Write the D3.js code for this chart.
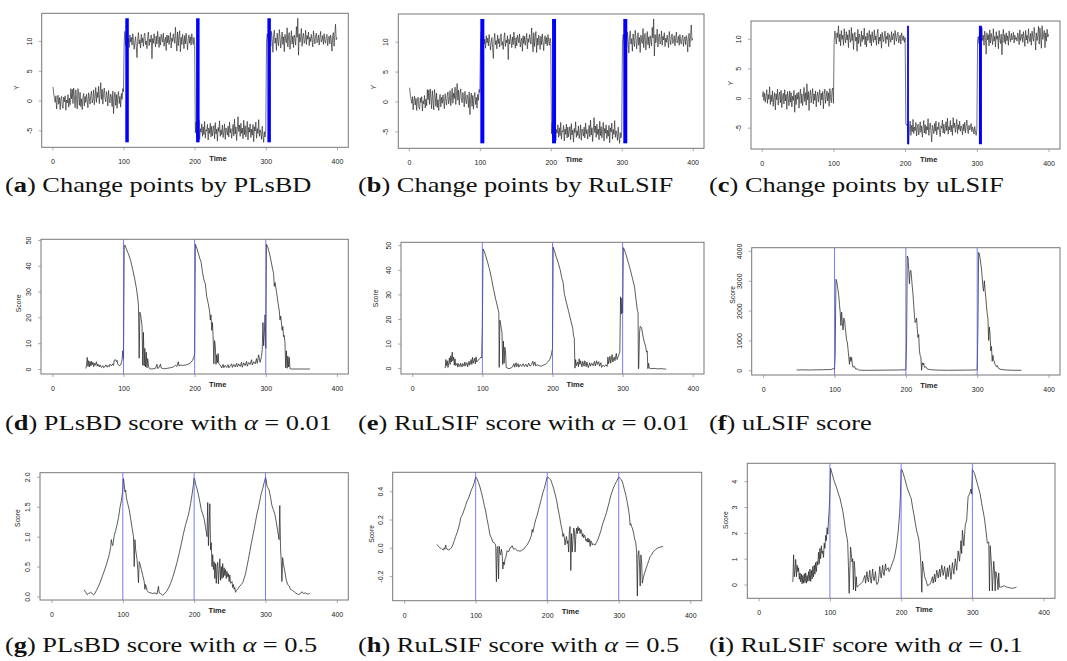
<!DOCTYPE html>
<html>
<head>
<meta charset="utf-8">
<script src="https://cdn.jsdelivr.net/npm/d3@7"></script>
<style>
body { margin: 0; background: #fff; }
svg { display: block; }
</style>
</head>
<body>
<svg id="fig" width="1067" height="661"></svg>
<script>
"use strict";

// observed series used by PLsBD and RuLSIF (t = 1..400)
var seriesY1 = [
 2.3, 1.1, 0.4, -0.3, 0.8, -1.4, 0.2, 0.9, -0.6, 0.5,
 -1.5, 0.3, 0.7, -0.9, -1.3, 0.6, -0.2, 0.8, -1.6, 0.1,
 -0.4, 1.0, -1.1, 0.4, -0.7, 2.0, 0.3, 1.9, -0.5, 2.1,
 0.6, -1.2, 1.8, 0.2, -1.4, 2.0, 0.9, -0.8, 1.4, -1.0,
 0.3, -1.5, 0.5, 1.2, -0.9, 0.7, -0.3, 1.1, 0.0, -1.2,
 1.3, 0.4, -0.6, 0.9, 1.6, -0.4, 0.2, 1.8, -0.7, 0.6,
 2.2, -0.3, 1.4, 0.5, 2.4, -0.5, 1.0, 3.0, 0.2, 1.9,
 -0.6, 1.2, 2.1, 0.4, -0.2, 1.5, 0.8, -0.9, 1.7, 0.3,
 -0.4, 1.1, 0.6, -1.0, 1.6, -2.2, 0.5, 1.4, -0.8, 1.0,
 -1.3, 0.9, 1.5, -0.5, 0.7, -1.1, 1.2, 0.2, 2.0, 1.5,
 10.0, 11.6, 9.2, 10.8, 11.3, 9.6, 10.4, 8.9, 11.0, 9.8,
 10.6, 9.3, 11.2, 10.1, 8.6, 9.9, 10.7, 9.0, 7.2, 10.3,
 11.4, 9.5, 10.2, 8.8, 11.1, 9.7, 10.5, 9.1, 10.9, 11.3,
 9.4, 10.0, 8.7, 10.6, 11.5, 9.2, 10.3, 9.8, 11.0, 7.0,
 10.4, 9.6, 11.2, 10.1, 9.0, 10.8, 9.5, 11.6, 10.2, 8.9,
 10.7, 9.3, 11.1, 10.5, 9.8, 11.3, 9.1, 10.0, 10.6, 8.4,
 11.0, 9.7, 10.9, 9.4, 10.2, 11.4, 8.8, 10.5, 9.9, 11.2,
 10.3, 9.6, 12.3, 10.0, 8.3, 11.5, 9.2, 10.8, 11.7, 8.2,
 10.6, 9.4, 11.1, 10.2, 8.7, 10.9, 9.5, 11.3, 10.0, 8.5,
 10.4, 11.0, 9.6, 10.7, 9.3, 11.2, 10.1, 9.4, 10.6, 9.7,
 -5.4, -3.6, -6.2, -4.1, -5.8, -3.2, -6.5, -4.7, -5.3, -3.9,
 -6.0, -4.4, -5.7, -3.5, -6.3, -4.9, -5.1, -4.0, -6.6, -4.6,
 -5.5, -3.8, -6.1, -4.3, -5.9, -5.0, -4.2, -6.4, -3.7, -5.6,
 -4.8, -6.8, -4.5, -5.2, -3.4, -6.0, -4.9, -5.7, -4.1, -6.2,
 -5.3, -3.9, -6.5, -4.6, -5.0, -5.8, -4.3, -6.1, -3.6, -5.4,
 -4.7, -6.3, -5.1, -4.0, -5.9, -3.1, -5.6, -4.4, -6.7, -4.8,
 -2.7, -5.2, -4.1, -6.0, -3.8, -5.5, -4.6, -6.4, -3.3, -5.7,
 -4.2, -6.1, -5.0, -3.5, -6.6, -4.5, -5.3, -3.9, -6.2, -4.8,
 -5.8, -4.0, -6.9, -4.4, -5.1, -3.6, -6.3, -4.7, -5.5, -3.2,
 -6.0, -4.9, -5.4, -6.5, -4.3, -5.9, -7.0, -5.2, -6.1, -5.0,
 9.8, 11.2, 10.4, 9.5, 12.0, 10.8, 9.1, 11.6, 10.2, 8.1,
 10.9, 11.8, 9.6, 10.5, 8.4, 11.3, 10.0, 9.2, 11.9, 10.6,
 8.8, 10.3, 11.5, 9.4, 10.7, 8.2, 11.1, 10.1, 9.7, 12.2,
 9.0, 10.9, 11.4, 8.6, 10.2, 11.7, 9.5, 10.8, 8.9, 11.0,
 10.4, 9.3, 12.4, 10.6, 13.8, 7.6, 11.2, 9.8, 10.5, 12.1,
 9.1, 10.7, 11.3, 9.6, 10.0, 11.8, 9.4, 10.9, 10.3, 11.5,
 9.2, 10.6, 9.9, 11.1, 10.2, 9.0, 11.7, 10.4, 9.5, 10.8,
 11.3, 9.7, 10.1, 11.0, 9.3, 10.5, 11.6, 9.8, 10.2, 10.9,
 9.4, 11.2, 10.0, 9.6, 10.7, 11.1, 9.2, 10.4, 10.8, 9.5,
 11.0, 10.3, 8.3, 10.9, 11.4, 9.1, 11.0, 12.8, 10.2, 10.6
];

// observed series used by uLSIF (t = 1..400)
var seriesY2 = [
 0.2, 1.1, -0.4, 0.8, -0.7, 0.3, 1.4, -0.9, 0.6, -0.2,
 1.9, -1.1, 0.5, -0.6, 1.2, -1.4, 0.1, 0.9, -2.0, 0.7,
 -0.3, 1.5, -1.2, 0.4, 1.0, -0.8, 1.3, -1.6, 0.2, 0.8,
 -1.0, 1.4, -0.5, 0.6, -1.9, 1.1, 0.0, -1.3, 1.2, -0.7,
 0.9, -1.5, 0.3, -0.4, 1.3, -2.4, 0.5, -1.1, 0.8, -0.2,
 1.0, -1.7, 0.4, 1.5, -0.9, 0.7, -1.3, 0.2, 1.8, -0.6,
 0.9, -1.2, 2.4, -0.3, 1.1, -2.1, 0.6, 1.3, -0.8, 0.4,
 1.6, -1.0, 0.7, -0.4, 1.2, -1.5, 0.3, 1.0, -0.7, 0.5,
 1.4, -1.2, 0.8, -0.3, 1.1, -1.8, 0.6, 1.5, -0.9, 0.2,
 1.2, -0.5, 0.9, -1.4, 1.6, 0.1, -0.8, 1.3, 1.7, -0.9,
 9.6, 11.3, 10.4, 9.1, 11.0, 10.2, 12.2, 9.5, 10.8, 8.8,
 11.4, 9.9, 10.6, 8.9, 11.7, 10.1, 9.3, 11.2, 9.8, 10.7,
 8.5, 11.5, 10.0, 9.4, 11.9, 9.7, 10.9, 8.2, 10.5, 11.1,
 9.6, 10.3, 7.9, 11.6, 9.2, 10.8, 10.1, 8.7, 11.3, 9.5,
 10.6, 9.9, 11.8, 9.0, 10.4, 8.6, 11.0, 9.7, 10.2, 11.4,
 9.3, 10.7, 8.8, 11.2, 10.0, 9.4, 11.5, 9.8, 10.5, 8.9,
 10.9, 11.6, 9.1, 10.3, 9.6, 10.8, 8.4, 11.1, 10.0, 9.5,
 10.6, 11.3, 9.2, 10.4, 9.9, 11.0, 8.7, 10.7, 10.1, 9.4,
 11.2, 9.8, 10.5, 10.9, 9.0, 11.4, 10.2, 9.6, 10.8, 11.1,
 9.3, 10.0, 10.6, 9.1, 11.0, 10.3, 9.7, 10.5, 9.4, 10.2,
 -4.3, -4.6, -4.4, -6.1, -7.8, -5.2, -3.9, -6.3, -4.6, -5.7,
 -3.6, -6.0, -4.9, -5.5, -4.1, -6.4, -5.0, -4.4, -6.2, -5.3,
 -4.0, -5.8, -4.7, -6.6, -5.1, -3.8, -5.9, -4.5, -6.1, -4.8,
 -5.4, -3.5, -6.3, -5.0, -4.2, -5.7, -7.4, -4.6, -5.2, -6.0,
 -4.3, -5.6, -3.9, -6.2, -4.9, -5.3, -4.1, -5.8, -6.5, -4.7,
 -5.1, -3.7, -5.9, -4.4, -6.0, -5.2, -4.0, -5.5, -3.4, -6.1,
 -4.8, -5.4, -3.8, -5.7, -4.6, -6.3, -3.3, -5.0, -4.2, -5.8,
 -4.9, -3.6, -6.0, -4.5, -5.3, -3.9, -5.6, -4.7, -5.1, -6.2,
 -4.4, -5.5, -4.1, -5.9, -4.8, -3.7, -5.2, -6.0, -4.6, -5.4,
 -5.0, -4.3, -5.7, -4.9, -5.3, -6.1, -4.8, -5.6, -6.3, -5.4,
 9.6, 10.4, 9.2, 11.1, 10.0, 9.5, 11.8, 9.7, 10.6, 8.9,
 11.3, 10.2, 7.4, 11.0, 9.8, 10.7, 8.8, 11.5, 9.3, 10.9,
 10.1, 9.0, 11.7, 9.6, 10.4, 8.6, 11.2, 9.9, 10.5, 8.3,
 11.4, 10.0, 9.2, 10.8, 7.3, 10.3, 11.6, 9.4, 10.7, 9.1,
 11.0, 9.7, 10.5, 8.9, 11.3, 10.2, 9.5, 10.9, 9.8, 10.1,
 11.1, 9.3, 10.6, 9.9, 10.2, 9.6, 11.0, 10.4, 9.0, 11.5,
 9.7, 10.3, 10.8, 9.4, 11.2, 10.0, 8.7, 11.4, 9.8, 10.6,
 9.2, 11.7, 10.1, 9.5, 10.9, 8.9, 11.3, 10.2, 9.6, 11.9,
 10.4, 8.1, 11.0, 9.7, 10.5, 12.1, 9.1, 11.8, 10.3, 8.4,
 12.2, 9.9, 10.7, 11.4, 8.5, 11.0, 9.6, 11.6, 10.3, 10.8
];

// detected change points
var cpPLsBD = [105, 204.5, 304.7];
var cpRuLSIF = [103.5, 204.6, 305];
var cpULSIF = [204, 305];

// true change points (vertical reference lines in score plots)
var trueCps = [100, 200, 300];

// scores: [time, score]
var scorePLsBD01 = [
 [47,0.2],[48,1.5],[49,4.5],[50,1.0],[51,3.2],[52,0.8],[53,2.9],[54,1.2],[55,3.0],[56,1.6],[57,2.6],[58,0.9],[59,2.2],[60,1.4],[62,2.8],[63,1.1],[64,1.9],[66,0.8],[67,1.6],[69,0.6],[71,1.3],[72,0.5],[74,1.0],[75,1.6],[77,0.7],[78,1.4],[80,0.9],[81,1.9],[83,1.2],[85,2.0],[86,1.4],[87,3.4],[89,3.6],[90,2.8],[91,3.3],[92,1.8],[94,1.3],[96,1.6],[97,2.5],[98,3.5],[99,7.1],[100,4.0],
 [101,47.8],[102,48.0],[104,46.5],[107,44.5],[110,42.0],[113,38.5],[116,34.5],[118,31.5],[120,27.5],[121,24.5],[122,4.2],[123,22.0],[124,21.0],[125,19.0],[126,17.0],[127,1.5],[128,14.2],[129,1.2],[130,8.0],[131,0.8],[132,6.5],[133,0.5],[134,4.0],[135,1.5],[136,0.3],[138,0.0],[142,0.1],[145,0.3],[147,1.8],[148,0.2],[150,0.6],[152,1.9],[153,0.4],[155,0.2],[158,0.1],[162,0.3],[166,0.5],[170,0.8],[173,1.4],[175,1.0],[177,2.8],[178,1.2],[180,1.5],[184,1.4],[188,1.6],[192,2.0],[195,2.6],[197,3.4],[199,4.6],[200,6.0],
 [201,48.3],[203,46.8],[205,45.0],[207,43.0],[209,41.5],[211,37.5],[213,34.5],[215,33.0],[217,28.0],[219,25.5],[221,22.5],[222,19.0],[223,21.0],[224,15.0],[225,18.0],[226,12.0],[227,2.0],[228,11.0],[229,9.0],[230,1.8],[231,5.5],[232,2.5],[233,6.0],[234,2.0],[236,1.5],[238,0.4],[240,1.8],[241,0.5],[243,1.4],[245,0.6],[247,1.7],[248,0.4],[250,1.2],[252,2.0],[253,0.6],[255,1.8],[257,0.8],[259,2.2],[260,0.9],[262,2.0],[264,1.0],[266,2.6],[267,0.7],[269,2.4],[271,1.3],[273,3.0],[274,1.1],[276,2.5],[278,1.8],[280,3.6],[281,1.6],[283,2.8],[285,2.0],[287,4.0],[288,2.2],[290,5.5],[292,2.6],[294,4.8],[295,7.5],[296,18.0],[297,9.0],[298,14.0],[299,21.0],[300,8.0],
 [301,48.3],[303,47.0],[305,45.0],[307,42.5],[309,39.5],[311,37.0],[312,32.0],[313,33.5],[315,30.0],[317,26.0],[319,22.5],[320,19.0],[321,20.5],[323,15.0],[324,16.5],[325,12.5],[326,13.0],[327,10.0],[328,0.5],[329,7.0],[330,0.3],[331,5.0],[332,0.8],[333,4.5],[334,0.2],[336,0.0],[362,0.0]
];

var scoreRuLSIF01 = [
 [47,0.0],[48,3.5],[49,1.0],[50,3.0],[51,0.3],[52,2.0],[53,4.2],[54,1.5],[55,5.0],[56,2.5],[57,6.5],[58,3.0],[59,4.5],[60,1.2],[61,3.8],[62,1.0],[64,2.0],[65,0.4],[66,1.8],[68,0.6],[69,2.0],[71,0.5],[72,1.9],[74,0.8],[75,2.5],[76,1.0],[78,2.2],[79,0.5],[81,2.8],[82,1.2],[84,3.5],[85,1.5],[86,4.4],[87,2.0],[89,4.0],[90,1.8],[91,4.6],[92,2.5],[94,3.2],[96,3.8],[98,4.5],[99,4.2],[100,17.0],
 [101,48.5],[102,48.0],[104,46.5],[107,43.5],[110,40.5],[113,36.5],[116,32.0],[119,28.0],[122,24.5],[123.5,22.5],[124,0.3],[125,19.5],[126,18.0],[127,16.0],[128,14.5],[129,1.5],[130,11.0],[131,2.0],[132,8.5],[133,7.0],[134,0.3],[136,0.0],[138,-0.2],[141,0.1],[143,0.5],[145,1.8],[146,0.4],[148,2.2],[149,0.6],[151,1.8],[152,0.4],[154,1.5],[156,0.7],[158,1.8],[160,0.6],[162,1.6],[164,0.5],[166,2.0],[168,0.8],[170,1.5],[172,2.8],[173,1.0],[175,2.5],[176,0.9],[178,1.4],[181,1.0],[184,0.8],[187,1.2],[190,1.6],[193,2.4],[196,3.5],[198,5.0],[200,8.0],
 [201,49.2],[203,47.5],[205,45.5],[208,43.0],[211,40.0],[213,37.0],[215,35.0],[217,30.0],[220,26.5],[223,23.0],[226,19.5],[229,16.0],[230,13.0],[231,12.5],[232,0.0],[233,3.5],[234,1.0],[236,2.5],[237,0.6],[238,3.8],[239,1.5],[240,3.0],[242,0.5],[243,2.8],[245,0.8],[246,3.0],[248,0.6],[249,2.5],[251,0.2],[253,2.2],[254,0.8],[256,2.0],[258,1.0],[260,2.8],[261,0.9],[263,3.0],[264,1.5],[266,2.6],[267,0.8],[269,2.2],[270,0.3],[272,1.2],[274,0.6],[276,1.4],[278,0.7],[279,4.5],[280,1.8],[282,4.8],[283,2.0],[285,5.5],[286,2.5],[288,4.5],[289,3.0],[291,6.0],[292,3.5],[294,5.0],[296,6.5],[297,29.0],[298,22.0],[299,28.5],[300,22.5],
 [301,49.0],[302,48.5],[305,46.0],[308,43.0],[311,40.0],[314,36.5],[317,33.0],[319,28.0],[321,23.5],[322,22.5],[322.5,-0.3],[323,0.5],[324,14.0],[325,17.0],[327,16.5],[329,13.0],[331,10.5],[333,8.5],[334,6.5],[335,7.0],[336,-0.2],[337,2.0],[338,0.0],[340,-0.2],[345,-0.1],[350,-0.3],[355,-0.2],[360,-0.4],[362,-0.3]
];

var scoreULSIF = [
 [47,10],[55,15],[65,10],[75,15],[85,20],[95,25],[99,60],[100,30],
 [101,500],[102,3050],[103,3000],[104,2850],[106,2500],[107,2200],[108,1950],[109,1500],[110,1950],[111,1600],[112,1350],[113,1750],[114,1700],[115,1450],[116,1250],[117,1000],[118,950],[119,700],[120,450],[121,200],[122,450],[123,300],[124,430],[125,200],[126,100],[128,130],[130,30],[132,50],[134,10],[138,0],[150,0],[170,5],[190,10],[199,15],[200,20],
 [201,900],[202,3830],[203,3780],[204,3400],[205,2900],[206,3300],[207,3350],[208,3100],[209,2800],[210,2550],[211,2200],[212,1850],[213,1600],[214,1650],[215,1750],[216,1400],[217,1100],[218,1200],[219,650],[220,500],[221,450],[222,0],[223,250],[224,180],[225,240],[226,100],[228,120],[230,40],[235,20],[245,5],[260,0],[280,5],[295,10],[299,15],[300,20],
 [301,1500],[302,3950],[303,3900],[304,3750],[306,3400],[307,3100],[308,2800],[309,2650],[310,3000],[311,2700],[312,2450],[313,2150],[314,1900],[315,1750],[316,1000],[317,1450],[318,1200],[319,650],[320,800],[321,300],[322,500],[323,350],[325,200],[327,120],[328,160],[330,60],[333,30],[340,10],[350,0],[362,0]
];

var scorePLsBD05 = [
 [46,0.11],[48,0.07],[50,0.03],[52,0.05],[55,0.07],[57,0.05],[59,0.03],[61,0.05],[63,0.1],[66,0.17],[69,0.26],[72,0.36],[75,0.46],[78,0.57],[81,0.7],[83,0.82],[84,0.95],[85,0.88],[86,0.85],[88,1.02],[90,1.1],[92,1.2],[94,1.32],[96,1.48],[98,1.6],[100,1.78],
 [101,1.97],[102,1.87],[103,1.75],[104,1.78],[105,1.65],[107,1.55],[109,1.45],[111,1.3],[113,1.15],[115,1.0],[116,0.5],[117,0.95],[118,0.78],[120,0.62],[121,0.45],[122,0.23],[123,0.58],[124,0.55],[126,0.45],[128,0.35],[130,0.25],[131,0.12],[132,0.2],[134,0.1],[136,0.07],[139,0.06],[142,0.05],[145,0.06],[148,0.04],[150,0.17],[151,0.06],[153,0.05],[156,0.02],[158,0.04],[161,0.08],[164,0.14],[167,0.22],[170,0.32],[173,0.44],[176,0.57],[179,0.72],[182,0.88],[185,1.05],[188,1.2],[191,1.32],[193,1.42],[195,1.55],[197,1.7],[199,1.87],[200,1.98],
 [201,1.95],[202,1.88],[204,1.8],[206,1.7],[208,1.58],[210,1.45],[212,1.38],[214,1.3],[216,1.15],[218,1.0],[219,1.57],[220,0.85],[221,1.2],[222,1.55],[223,0.78],[224,0.9],[225,0.5],[226,0.7],[227,0.45],[228,0.58],[229,0.3],[230,0.55],[231,0.22],[232,0.5],[233,0.57],[234,0.21],[235,0.45],[236,0.63],[237,0.27],[238,0.5],[239,0.3],[240,0.55],[241,0.32],[242,0.48],[243,0.35],[244,0.45],[245,0.3],[246,0.42],[247,0.33],[248,0.38],[249,0.25],[250,0.36],[251,0.22],[253,0.25],[254,0.15],[255,0.2],[256,0.12],[257,0.15],[258,0.07],[259,0.1],[261,0.12],[263,0.16],[266,0.2],[268,0.23],[270,0.3],[272,0.38],[274,0.5],[276,0.62],[278,0.75],[280,0.88],[282,1.0],[284,1.12],[286,1.25],[288,1.38],[290,1.48],[292,1.6],[294,1.72],[296,1.8],[298,1.9],[300,1.99],
 [301,1.95],[302,1.85],[303,1.82],[305,1.78],[307,1.66],[309,1.52],[311,1.45],[313,1.38],[315,1.25],[317,1.1],[319,0.95],[320,1.52],[321,0.82],[322,0.6],[323,0.25],[324,0.65],[325,0.55],[327,0.42],[329,0.28],[331,0.2],[333,0.18],[335,0.12],[338,0.1],[342,0.06],[346,0.03],[349,0.05],[351,0.08],[353,0.05],[356,0.06],[359,0.04],[362,0.05]
];

var scoreRuLSIF05 = [
 [46,0.024],[48,0.01],[50,0.0],[52,-0.005],[53,-0.01],[55,-0.015],[56,0.0],[57,-0.01],[58,0.02],[59,0.0],[60,-0.01],[62,-0.015],[64,-0.01],[66,0.0],[68,0.02],[70,0.05],[72,0.08],[74,0.106],[76,0.14],[78,0.18],[79,0.21],[80,0.22],[81,0.23],[82,0.24],[84,0.27],[86,0.3],[88,0.33],[90,0.35],[92,0.38],[94,0.41],[96,0.43],[98,0.46],[100,0.5],
 [101,0.495],[102,0.485],[104,0.46],[106,0.43],[108,0.39],[110,0.35],[112,0.3],[114,0.26],[116,0.2],[118,0.15],[120,0.09],[122,0.07],[124,0.04],[126,0.035],[127,0.03],[128,0.02],[129,-0.24],[130,0.0],[131,0.01],[132,-0.22],[133,0.01],[134,-0.04],[135,-0.05],[136,-0.01],[137,-0.04],[138,-0.15],[139,-0.1],[140,-0.12],[141,-0.08],[142,-0.07],[144,-0.02],[146,-0.03],[148,0.0],[150,0.005],[151,0.015],[153,-0.01],[155,-0.005],[158,-0.02],[160,-0.02],[162,-0.025],[165,-0.015],[167,-0.01],[170,0.01],[172,0.02],[174,0.04],[176,0.06],[178,0.09],[179,0.13],[180,0.11],[182,0.16],[184,0.2],[186,0.23],[188,0.27],[190,0.31],[192,0.35],[194,0.39],[196,0.42],[198,0.46],[200,0.5],
 [201,0.5],[203,0.49],[205,0.48],[207,0.45],[209,0.42],[211,0.38],[213,0.34],[215,0.28],[217,0.23],[219,0.17],[221,0.12],[222,0.08],[223,0.1],[224,0.07],[225,0.02],[226,0.06],[227,0.08],[228,0.03],[229,0.05],[230,-0.03],[231,0.12],[232,0.15],[233,-0.16],[234,0.1],[235,-0.03],[236,0.05],[237,0.14],[238,0.12],[239,-0.03],[240,0.08],[241,0.14],[242,0.1],[243,0.15],[244,0.12],[245,0.14],[246,0.1],[247,0.13],[248,0.12],[249,0.08],[250,0.1],[251,0.07],[252,0.09],[253,0.08],[254,0.05],[255,0.06],[256,0.04],[257,0.07],[258,0.04],[259,0.06],[260,0.01],[261,0.05],[262,0.04],[263,0.02],[264,0.03],[265,0.025],[267,0.02],[269,0.04],[271,0.06],[273,0.09],[275,0.12],[277,0.16],[279,0.19],[281,0.22],[283,0.25],[285,0.29],[287,0.33],[289,0.37],[291,0.4],[293,0.43],[295,0.45],[297,0.47],[299,0.49],[300,0.5],
 [302,0.49],[304,0.48],[306,0.45],[308,0.41],[310,0.37],[312,0.32],[314,0.26],[315,0.22],[316,0.16],[317,0.17],[318,0.15],[319,0.14],[320,0.12],[321,0.1],[322,0.07],[323,0.05],[324,0.03],[325,-0.03],[326,-0.34],[327,-0.05],[328,-0.02],[329,-0.1],[330,-0.27],[331,-0.05],[332,-0.1],[333,-0.25],[334,-0.22],[335,-0.2],[336,-0.18],[338,-0.15],[340,-0.12],[342,-0.09],[344,-0.06],[346,-0.05],[348,-0.03],[350,-0.02],[352,-0.01],[355,0.0],[358,0.005],[362,0.01]
];

var scoreRuLSIF01b = [
 [47,0.09],[48,0.12],[49,1.15],[50,0.3],[51,0.55],[52,0.97],[53,0.3],[54,0.75],[55,0.5],[56,0.65],[57,0.2],[58,0.45],[59,0.1],[60,0.4],[61,0.03],[62,0.35],[63,0.05],[64,0.42],[65,0.08],[66,0.45],[67,0.05],[68,0.35],[69,0.12],[70,0.5],[71,0.15],[72,0.6],[73,0.12],[74,0.55],[75,0.22],[76,0.7],[77,0.3],[78,0.75],[79,0.4],[80,0.85],[81,0.5],[82,0.9],[83,0.75],[84,1.25],[85,0.8],[86,1.4],[87,1.0],[88,1.5],[89,1.2],[90,1.3],[91,1.05],[92,1.6],[93,1.4],[94,1.9],[95,1.7],[96,2.2],[97,1.95],[98,2.5],[99,2.9],[100,3.6],
 [101,4.5],[102,4.4],[104,4.2],[106,4.0],[108,3.85],[110,3.7],[112,3.5],[114,3.35],[116,3.1],[118,2.85],[120,2.5],[122,2.1],[124,1.8],[125,1.6],[126,0.7],[127,-0.34],[128,0.6],[129,1.45],[130,1.2],[131,0.87],[132,1.0],[133,-0.2],[134,0.9],[135,0.6],[136,-0.25],[137,0.3],[138,-0.1],[140,-0.05],[142,0.0],[144,0.05],[146,0.1],[147,0.2],[149,0.35],[150,0.05],[152,0.5],[153,0.2],[154,0.1],[156,0.55],[157,0.2],[158,0.05],[160,0.6],[161,0.25],[162,0.15],[164,0.5],[165,0.1],[166,0.0],[168,0.1],[170,0.7],[171,0.4],[172,0.25],[174,0.75],[175,0.45],[176,0.35],[178,0.8],[179,0.55],[180,0.6],[182,0.65],[183,0.5],[184,0.55],[186,0.7],[188,0.85],[190,1.0],[192,1.25],[194,1.6],[196,2.1],[198,2.8],[199,3.5],[200,4.45],
 [201,4.45],[203,4.3],[205,4.1],[207,3.9],[209,3.7],[211,3.55],[213,3.4],[214,3.35],[216,3.0],[218,2.7],[220,2.35],[222,2.05],[224,1.85],[225,1.7],[226,1.4],[227,1.1],[228,0.6],[229,-0.3],[230,0.9],[231,0.7],[232,0.5],[233,0.3],[235,0.15],[237,-0.05],[240,0.0],[242,0.1],[244,0.3],[245,0.05],[247,0.4],[248,0.1],[250,0.55],[252,0.25],[254,0.6],[255,0.3],[257,0.75],[259,0.35],[261,0.7],[263,0.2],[265,0.65],[266,0.3],[268,0.75],[270,0.2],[272,0.85],[274,0.4],[276,1.0],[278,0.55],[280,1.3],[282,0.9],[284,1.7],[285,1.2],[286,2.1],[288,1.5],[290,2.3],[292,2.5],[294,3.4],[296,3.5],[298,3.7],[299,3.5],[300,4.45],
 [301,4.4],[303,4.3],[305,4.1],[307,3.9],[309,3.7],[311,3.5],[313,3.15],[315,2.85],[317,2.55],[319,2.1],[321,1.6],[323,1.65],[324,-0.25],[325,1.5],[326,1.1],[327,0.7],[328,-0.25],[330,0.9],[331,0.55],[332,-0.25],[333,0.5],[335,0.2],[336,-0.2],[337,0.45],[338,-0.1],[340,-0.1],[342,-0.08],[345,-0.05],[348,-0.1],[352,-0.12],[356,-0.15],[360,-0.12],[362,-0.1]
];

var captionLetters = ["a", "b", "c", "d", "e", "f", "g", "h", "i"];
var captionTexts = [
 "Change points by PLsBD", "Change points by RuLSIF", "Change points by uLSIF",
 "PLsBD score with α = 0.01", "RuLSIF score with α = 0.01", "uLSIF score",
 "PLsBD score with α = 0.5", "RuLSIF score with α = 0.5", "RuLSIF score with α = 0.1"
];

// layout: plot box [x0, y0, x1, y1], y-label position
var panels = [
 {box: [41.7, 13.3, 348.3, 147.3], series: seriesY1, cps: cpPLsBD, cpw: [3.5, 3.5, 3.5], ylab: "Y", ylabDx: -25, ylabF: 0.555},
 {box: [398.3, 14, 704, 148.3], series: seriesY1, cps: cpRuLSIF, cpw: [4, 4, 4], ylab: "Y", ylabDx: -25, ylabF: 0.546},
 {box: [751, 21, 1060, 149], series: seriesY2, cps: cpULSIF, cpw: [1.8, 3], ylab: "Y", ylabDx: -21, ylabF: 0.487},
 {box: [41, 239.3, 348.3, 374], score: scorePLsBD01, ylab: "Score", ylabDx: -22.7, ylabF: 0.476},
 {box: [401, 242.3, 704, 374], score: scoreRuLSIF01, ylab: "Score", ylabDx: -26, ylabF: 0.425},
 {box: [751.7, 247.7, 1060, 375], score: scoreULSIF, ylab: "Score", ylabDx: -19, ylabF: 0.37},
 {box: [40, 472.7, 348.3, 600], score: scorePLsBD05, ylab: "Score", ylabDx: -22.7, ylabF: 0.356},
 {box: [392.7, 472.3, 701.7, 600.7], score: scoreRuLSIF05, ylab: "Score", ylabDx: -21, ylabF: 0.48},
 {box: [747.3, 463.3, 1055, 598.3], score: scoreRuLSIF01b, ylab: "Score", ylabDx: -22.3, ylabF: 0.42}
];

var captionX = [5, 358, 709];
var captionY = [192, 430, 652];

// R style axis range: data range extended by 4% on each side
function rRange(ext) {
  var r = ext[1] - ext[0];
  return [ext[0] - 0.04 * r, ext[1] + 0.04 * r];
}

var svg = d3.select("#fig");
var sans = "'Liberation Sans', Arial, sans-serif";

panels.forEach(function(p, k) {
  var pts, xdom;
  if (p.series) {
    pts = p.series.map(function(v, i) { return [i + 1, v]; });
    xdom = rRange([1, p.series.length]);
  } else {
    pts = p.score;
    xdom = rRange([0, 400]);
  }
  var yext = d3.extent(pts, function(d) { return d[1]; });
  var x = d3.scaleLinear().domain(xdom).range([p.box[0], p.box[2]]);
  var y = d3.scaleLinear().domain(rRange(yext)).range([p.box[3], p.box[1]]);

  var g = svg.append("g");

  // data line
  var line = d3.line()
    .x(function(d) { return x(d[0]); })
    .y(function(d) { return y(d[1]); });

  g.append("path")
    .datum(pts)
    .attr("fill", "none")
    .attr("stroke", "#262626")
    .attr("stroke-width", p.series ? 0.65 : 0.75)
    .attr("stroke-linejoin", "round")
    .attr("d", line);

  if (p.series) {
    // detected change points, drawn over the data range
    g.selectAll(".cp")
      .data(p.cps)
      .enter().append("line")
      .attr("x1", function(d) { return x(d); })
      .attr("x2", function(d) { return x(d); })
      .attr("y1", y(yext[0]))
      .attr("y2", y(yext[1]))
      .attr("stroke", "#0000ff")
      .attr("stroke-width", function(d, i) { return p.cpw[i]; });
  } else {
    g.selectAll(".tcp")
      .data(trueCps)
      .enter().append("line")
      .attr("x1", function(d) { return x(d); })
      .attr("x2", function(d) { return x(d); })
      .attr("y1", p.box[1])
      .attr("y2", p.box[3])
      .attr("stroke", "#4d4dff")
      .attr("stroke-opacity", 0.75)
      .attr("stroke-width", 1);
  }

  // box
  g.append("rect")
    .attr("x", p.box[0])
    .attr("y", p.box[1])
    .attr("width", p.box[2] - p.box[0])
    .attr("height", p.box[3] - p.box[1])
    .attr("fill", "none")
    .attr("stroke", "#777")
    .attr("stroke-width", 1);

  // x axis
  var xa = g.append("g")
    .attr("transform", "translate(0," + p.box[3] + ")")
    .call(d3.axisBottom(x).ticks(5).tickSize(3).tickPadding(9).tickFormat(d3.format("d")));
  xa.select(".domain").remove();
  xa.selectAll("line").attr("stroke", "#888").attr("stroke-width", 0.7);
  xa.selectAll("text")
    .attr("font-family", sans)
    .attr("font-size", 7)
    .attr("fill", "#222");

  // y axis, labels parallel to the axis
  var step = d3.tickStep(y.domain()[0], y.domain()[1], 5);
  var fmt = d3.format("." + d3.precisionFixed(step) + "f");
  var ya = g.append("g")
    .attr("transform", "translate(" + p.box[0] + ",0)")
    .call(d3.axisLeft(y).ticks(5).tickSize(3)
      .tickFormat(function(d) { return fmt(d).replace("\u2212", "-"); }));
  ya.select(".domain").remove();
  ya.selectAll("line").attr("stroke", "#888").attr("stroke-width", 0.7);
  ya.selectAll("text")
    .attr("x", null)
    .attr("dy", null)
    .attr("text-anchor", "middle")
    .attr("transform", "translate(-10,0) rotate(-90)")
    .attr("font-family", sans)
    .attr("font-size", 7)
    .attr("fill", "#222");

  // axis titles
  g.append("text")
    .attr("x", p.box[0] + 0.575 * (p.box[2] - p.box[0]))
    .attr("y", p.box[3] + 13.3)
    .attr("text-anchor", "middle")
    .attr("font-family", sans)
    .attr("font-size", 7.5)
    .attr("font-weight", "bold")
    .attr("fill", "#222")
    .text("Time");

  var ly = p.box[1] + p.ylabF * (p.box[3] - p.box[1]);
  g.append("text")
    .attr("transform", "translate(" + (p.box[0] + p.ylabDx + 2.5) + "," + ly + ") rotate(-90)")
    .attr("text-anchor", "middle")
    .attr("font-family", sans)
    .attr("font-size", 6.8)
    .attr("fill", "#222")
    .text(p.ylab);

  // caption
  var cap = svg.append("text")
    .attr("transform", "translate(" + captionX[k % 3] + "," + captionY[Math.floor(k / 3)] + ") scale(1.2,1)")
    .attr("font-family", "'Liberation Serif', 'Times New Roman', serif")
    .attr("font-size", 22)
    .attr("fill", "#111");
  cap.append("tspan").text("(");
  cap.append("tspan").attr("font-weight", "bold").text(captionLetters[k]);
  cap.append("tspan").text(") ");
  var parts = captionTexts[k].split("α");
  cap.append("tspan").text(parts[0]);
  if (parts.length > 1) {
    cap.append("tspan").attr("font-style", "italic").text("α");
    cap.append("tspan").text(parts[1]);
  }
});
</script>
</body>
</html>
